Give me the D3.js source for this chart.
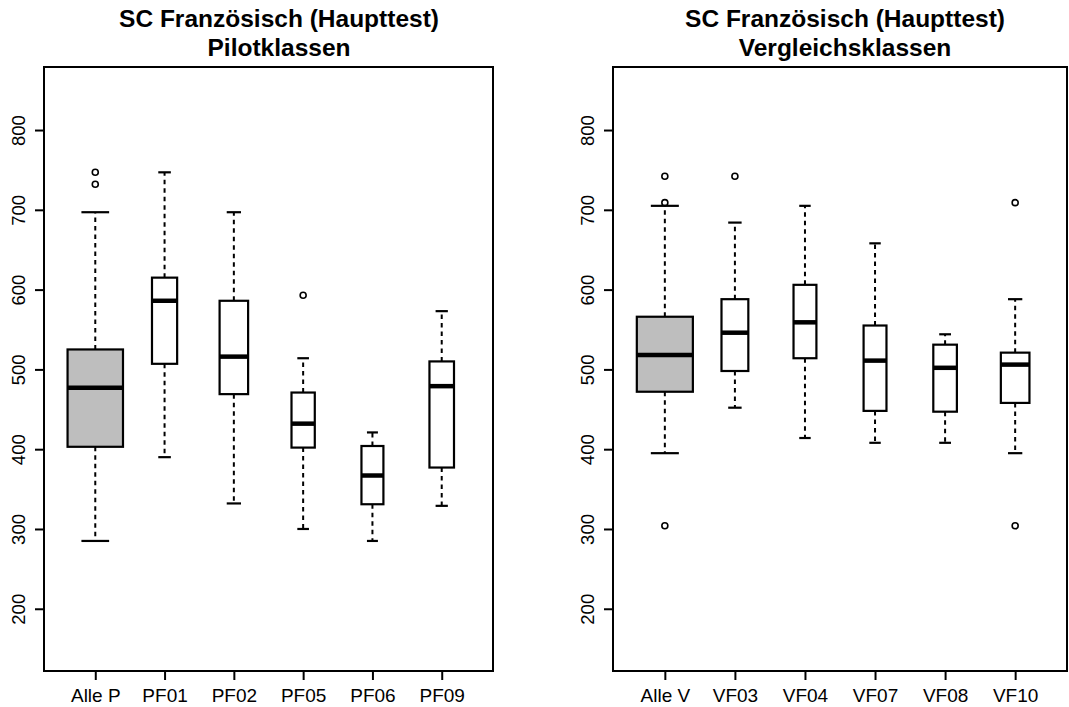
<!DOCTYPE html>
<html>
<head>
<meta charset="utf-8">
<script src="https://cdn.jsdelivr.net/npm/d3@7"></script>
<style>
  html, body { margin: 0; padding: 0; background: #fff; }
  svg { display: block; }
  text { font-family: "Liberation Sans", Arial, Helvetica, sans-serif; fill: #000; }
</style>
</head>
<body>
<svg id="chart" width="1069" height="707"></svg>
<script>
// ---------- data ----------
const titleLine1 = "SC Französisch (Haupttest)";
const leftSubtitle = "Pilotklassen";
const rightSubtitle = "Vergleichsklassen";
const yTickValues = [200, 300, 400, 500, 600, 700, 800];

const leftCategories = ["Alle P", "PF01", "PF02", "PF05", "PF06", "PF09"];
const leftLowerWhisker = [285, 390, 332, 300, 285, 329];
const leftQ1 = [403, 507, 469, 402, 331, 377];
const leftMedian = [477, 586, 516, 432, 367, 479];
const leftQ3 = [525, 615, 586, 471, 404, 510];
const leftUpperWhisker = [697, 747, 697, 514, 421, 573];
const leftOutliers = [[747, 732], [], [], [593], [], []];
const leftCounts = [102, 21, 27, 18, 16, 20];

const rightCategories = ["Alle V", "VF03", "VF04", "VF07", "VF08", "VF10"];
const rightLowerWhisker = [395, 452, 414, 408, 408, 395];
const rightQ1 = [472, 498, 514, 448, 447, 458];
const rightMedian = [518, 546, 559, 511, 502, 506];
const rightQ3 = [566, 588, 606, 555, 531, 521];
const rightUpperWhisker = [705, 684, 705, 658, 544, 588];
const rightOutliers = [[742, 709, 304], [742], [], [], [], [709, 304]];
const rightCounts = [96, 22, 16, 16, 17, 25];

// ---------- drawing ----------
const svg = d3.select("#chart");
const plotTop = 67, plotBottom = 671;
const yDomain = [122, 879];
const labelFont = "'Liberation Sans', Arial, sans-serif";

function drawPanel(cfg) {
  const g = svg.append("g");
  const x = d3.scalePoint().domain(cfg.categories).range([cfg.left, cfg.right]).padding(0.74);
  const y = d3.scaleLinear().domain(yDomain).range([plotBottom, plotTop]);
  const step = x.step();
  const maxN = d3.max(cfg.counts);

  const data = cfg.categories.map((c, i) => ({
    cat: c, lo: cfg.lo[i], q1: cfg.q1[i], med: cfg.med[i], q3: cfg.q3[i], hi: cfg.hi[i],
    out: cfg.out[i], w: 0.8 * step * Math.sqrt(cfg.counts[i] / maxN), fill: i === 0 ? "#bebebe" : "#ffffff"
  }));

  const box = g.selectAll("g.box").data(data).join("g").attr("class", "box");

  // whiskers (dashed)
  box.append("line")
    .attr("x1", d => x(d.cat)).attr("x2", d => x(d.cat))
    .attr("y1", d => y(d.q3)).attr("y2", d => y(d.hi))
    .attr("stroke", "#000").attr("stroke-width", 2).attr("stroke-dasharray", "4.5,4");
  box.append("line")
    .attr("x1", d => x(d.cat)).attr("x2", d => x(d.cat))
    .attr("y1", d => y(d.q1)).attr("y2", d => y(d.lo))
    .attr("stroke", "#000").attr("stroke-width", 2).attr("stroke-dasharray", "4.5,4");
  // staples
  box.append("line")
    .attr("x1", d => x(d.cat) - d.w / 4).attr("x2", d => x(d.cat) + d.w / 4)
    .attr("y1", d => y(d.hi)).attr("y2", d => y(d.hi))
    .attr("stroke", "#000").attr("stroke-width", 2.2);
  box.append("line")
    .attr("x1", d => x(d.cat) - d.w / 4).attr("x2", d => x(d.cat) + d.w / 4)
    .attr("y1", d => y(d.lo)).attr("y2", d => y(d.lo))
    .attr("stroke", "#000").attr("stroke-width", 2.2);
  // box
  box.append("rect")
    .attr("x", d => x(d.cat) - d.w / 2).attr("width", d => d.w)
    .attr("y", d => y(d.q3)).attr("height", d => y(d.q1) - y(d.q3))
    .attr("fill", d => d.fill).attr("stroke", "#000").attr("stroke-width", 2.2);
  // median
  box.append("line")
    .attr("x1", d => x(d.cat) - d.w / 2).attr("x2", d => x(d.cat) + d.w / 2)
    .attr("y1", d => y(d.med)).attr("y2", d => y(d.med))
    .attr("stroke", "#000").attr("stroke-width", 4.5);
  // outliers
  box.selectAll("circle").data(d => d.out.map(v => ({ cat: d.cat, v }))).join("circle")
    .attr("cx", d => x(d.cat)).attr("cy", d => y(d.v)).attr("r", 3)
    .attr("fill", "none").attr("stroke", "#000").attr("stroke-width", 1.6);

  // frame
  g.append("rect")
    .attr("x", cfg.left).attr("y", plotTop)
    .attr("width", cfg.right - cfg.left).attr("height", plotBottom - plotTop)
    .attr("fill", "none").attr("stroke", "#000").attr("stroke-width", 2);

  // y axis
  const yAxis = g.append("g").attr("transform", `translate(${cfg.left},0)`)
    .call(d3.axisLeft(y).tickValues(yTickValues).tickSize(9).tickSizeOuter(0));
  yAxis.select(".domain").remove();
  yAxis.selectAll(".tick line").attr("stroke", "#000").attr("stroke-width", 2);
  yAxis.selectAll(".tick text")
    .attr("x", null).attr("dy", null).attr("y", null)
    .attr("text-anchor", "middle")
    .attr("transform", "translate(-19,0) rotate(-90)")
    .style("font-size", "18.5px").style("font-family", labelFont).attr("fill", "#000");

  // x axis
  const xAxis = g.append("g").attr("transform", `translate(0,${plotBottom})`)
    .call(d3.axisBottom(x).tickSize(9).tickSizeOuter(0));
  xAxis.select(".domain").remove();
  xAxis.selectAll(".tick line").attr("stroke", "#000").attr("stroke-width", 2);
  xAxis.selectAll(".tick text")
    .attr("y", 31).attr("dy", null)
    .style("font-size", "19px").style("font-family", labelFont).attr("fill", "#000");

  // titles
  g.append("text").attr("x", cfg.titleX).attr("y", 27).attr("text-anchor", "middle")
    .style("font-size", "24.5px").style("font-weight", "bold").text(titleLine1);
  g.append("text").attr("x", cfg.titleX).attr("y", 56).attr("text-anchor", "middle")
    .style("font-size", "24.5px").style("font-weight", "bold").text(cfg.subtitle);
}

drawPanel({
  categories: leftCategories, lo: leftLowerWhisker, q1: leftQ1, med: leftMedian, q3: leftQ3,
  hi: leftUpperWhisker, out: leftOutliers, counts: leftCounts,
  left: 44, right: 493, titleX: 279, subtitle: leftSubtitle
});
drawPanel({
  categories: rightCategories, lo: rightLowerWhisker, q1: rightQ1, med: rightMedian, q3: rightQ3,
  hi: rightUpperWhisker, out: rightOutliers, counts: rightCounts,
  left: 613, right: 1067, titleX: 845, subtitle: rightSubtitle
});
</script>
</body>
</html>
